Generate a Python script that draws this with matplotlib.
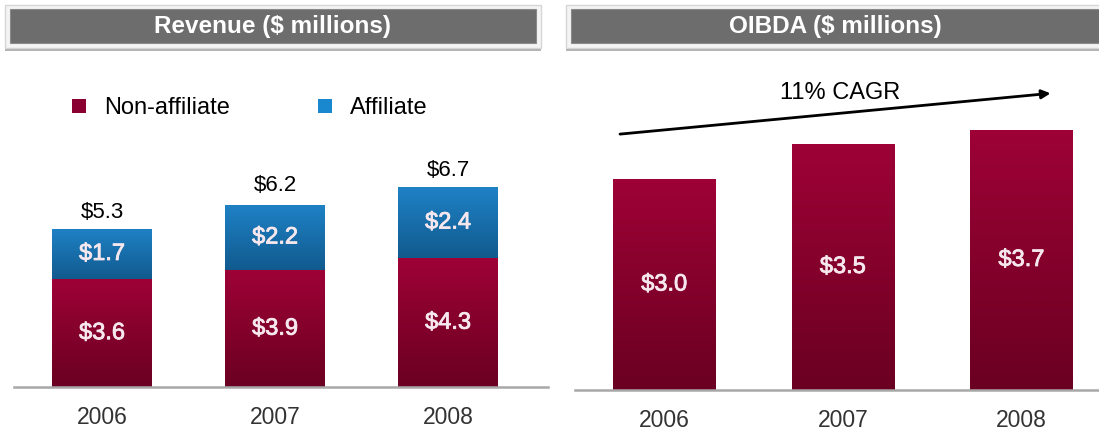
import numpy as np
import matplotlib.pyplot as plt
import matplotlib.patheffects as pe
from matplotlib.colors import LinearSegmentedColormap
from matplotlib.patches import Rectangle, Patch

# ---- data ($ millions) ----
years = ["2006", "2007", "2008"]
non_affiliate = [3.6, 3.9, 4.3]
affiliate = [1.7, 2.2, 2.4]
revenue_total = [5.3, 6.2, 6.7]
oibda = [3.0, 3.5, 3.7]
cagr_label = "11% CAGR"

# ---- styling ----
W, H = 1099, 434
plt.rcParams['font.family'] = ['Liberation Sans', 'DejaVu Sans']

CRIMSON_TOP, CRIMSON_BOT = '#9e0236', '#6a0022'
BLUE_TOP, BLUE_BOT = '#1f82c6', '#115a8e'
LABEL_IN = '#f6e8ee'
HEADER_GREY = '#6d6d6d'
AXIS_GREY = '#a8a8a8'
TICK_COLOR = '#333333'
SEMIBOLD = [pe.withStroke(linewidth=0.6, foreground=LABEL_IN)]

fig = plt.figure(figsize=(W / 100, H / 100), dpi=100)


def fig_box(x0, y0, x1, y1):
    """Pixel box (top-left origin) -> figure-fraction rect."""
    return [x0 / W, 1 - y1 / H, (x1 - x0) / W, (y1 - y0) / H]


def header(x0, x1, title):
    fig.patches.append(Rectangle((x0 / W, 1 - 48 / H), (x1 - x0) / W, 43 / H,
                                 transform=fig.transFigure, facecolor='#f4f4f4',
                                 edgecolor='#d6d6d6', lw=1.0))
    fig.patches.append(Rectangle(((x0 + 5) / W, 1 - 43 / H), (x1 - x0 - 10) / W, 34 / H,
                                 transform=fig.transFigure, facecolor=HEADER_GREY,
                                 edgecolor='#8a8a8a', lw=0.8))
    fig.patches.append(Rectangle((x0 / W, 1 - 51 / H), (x1 - x0) / W, 2.5 / H,
                                 transform=fig.transFigure, facecolor='#b4b4b4',
                                 edgecolor='none'))
    fig.text((x0 + x1) / 2 / W, 1 - 26 / H, title, color='white', fontsize=17.5,
             fontweight='bold', ha='center', va='center')


def gradient_bars(ax, bars, top, bottom):
    cmap = LinearSegmentedColormap.from_list('g', [bottom, top])
    grad = np.linspace(0, 1, 256).reshape(-1, 1)
    for b in bars:
        x0, y0 = b.get_x(), b.get_y()
        x1, y1 = x0 + b.get_width(), y0 + b.get_height()
        im = ax.imshow(grad, cmap=cmap, origin='lower', aspect='auto',
                       extent=(x0, x1, y0, y1), zorder=2, interpolation='bilinear')
        im.set_clip_path(b)


def style_axes(ax):
    for side in ('left', 'right', 'top'):
        ax.spines[side].set_visible(False)
    ax.spines['bottom'].set_color(AXIS_GREY)
    ax.spines['bottom'].set_linewidth(1.8)
    ax.set_yticks([])
    ax.tick_params(axis='x', length=0, pad=14, labelsize=16.5, labelcolor=TICK_COLOR)
    ax.set_facecolor('none')


def inner_label(ax, xv, yv, value):
    ax.text(xv, yv, f"${value:.1f}", ha='center', va='center', color=LABEL_IN,
            fontsize=17, zorder=3, path_effects=SEMIBOLD)


# ---- headers ----
header(5, 541, "Revenue ($ millions)")
header(566, 1104, "OIBDA ($ millions)")

# ---- revenue: stacked bars ----
x = np.arange(len(years))
ax1 = fig.add_axes(fig_box(14, 60, 548, 387))
w1 = 0.578
b_non = ax1.bar(x, non_affiliate, width=w1, color='none', zorder=1)
b_aff = ax1.bar(x, affiliate, width=w1, bottom=non_affiliate, color='none', zorder=1)
gradient_bars(ax1, b_non, CRIMSON_TOP, CRIMSON_BOT)
gradient_bars(ax1, b_aff, BLUE_TOP, BLUE_BOT)
ax1.set_xlim(-0.509, 2.578)
ax1.set_ylim(0, 327 / 29.9)
style_axes(ax1)
ax1.set_xticks(x, years)

for xi, n, a, t in zip(x, non_affiliate, affiliate, revenue_total):
    inner_label(ax1, xi, n / 2, n)
    inner_label(ax1, xi, n + a / 2, a)
    ax1.annotate(f"${t:.1f}", xy=(xi, t), xytext=(0, 11.5), textcoords='offset points',
                 ha='center', va='center', fontsize=16, color='black')

ax1.legend(handles=[Patch(facecolor='#8a0030', edgecolor='none', label='Non-affiliate'),
                    Patch(facecolor='#1a88cf', edgecolor='none', label='Affiliate')],
           ncol=2, frameon=False, fontsize=17, loc='center left',
           bbox_to_anchor=(72 / W, 1 - 108 / H), bbox_transform=fig.transFigure,
           handlelength=0.6, handleheight=0.55, handletextpad=0.75,
           columnspacing=3.75, borderpad=0, borderaxespad=0)

# ---- OIBDA bars ----
ax2 = fig.add_axes(fig_box(575, 60, 1099, 390))
w2 = 0.571
b_oi = ax2.bar(x, oibda, width=w2, color='none', zorder=1)
gradient_bars(ax2, b_oi, CRIMSON_TOP, CRIMSON_BOT)
ax2.set_xlim(-0.499, 2.434)
ax2.set_ylim(0, 330 / 70.3)
style_axes(ax2)
ax2.set_xticks(x, years)

for xi, v in zip(x, oibda):
    inner_label(ax2, xi, v / 2, v)

# CAGR trend arrow
ax2.annotate('', xy=(2.163, 4.22), xytext=(-0.247, 3.64),
             arrowprops=dict(arrowstyle='-|>', lw=2.0, color='black', mutation_scale=13,
                             shrinkA=0, shrinkB=0),
             annotation_clip=False)
ax2.text(0.986, 4.22, cagr_label, ha='center', va='center', fontsize=17, color='black')

fig.savefig('out.png', dpi=100, facecolor='white')
